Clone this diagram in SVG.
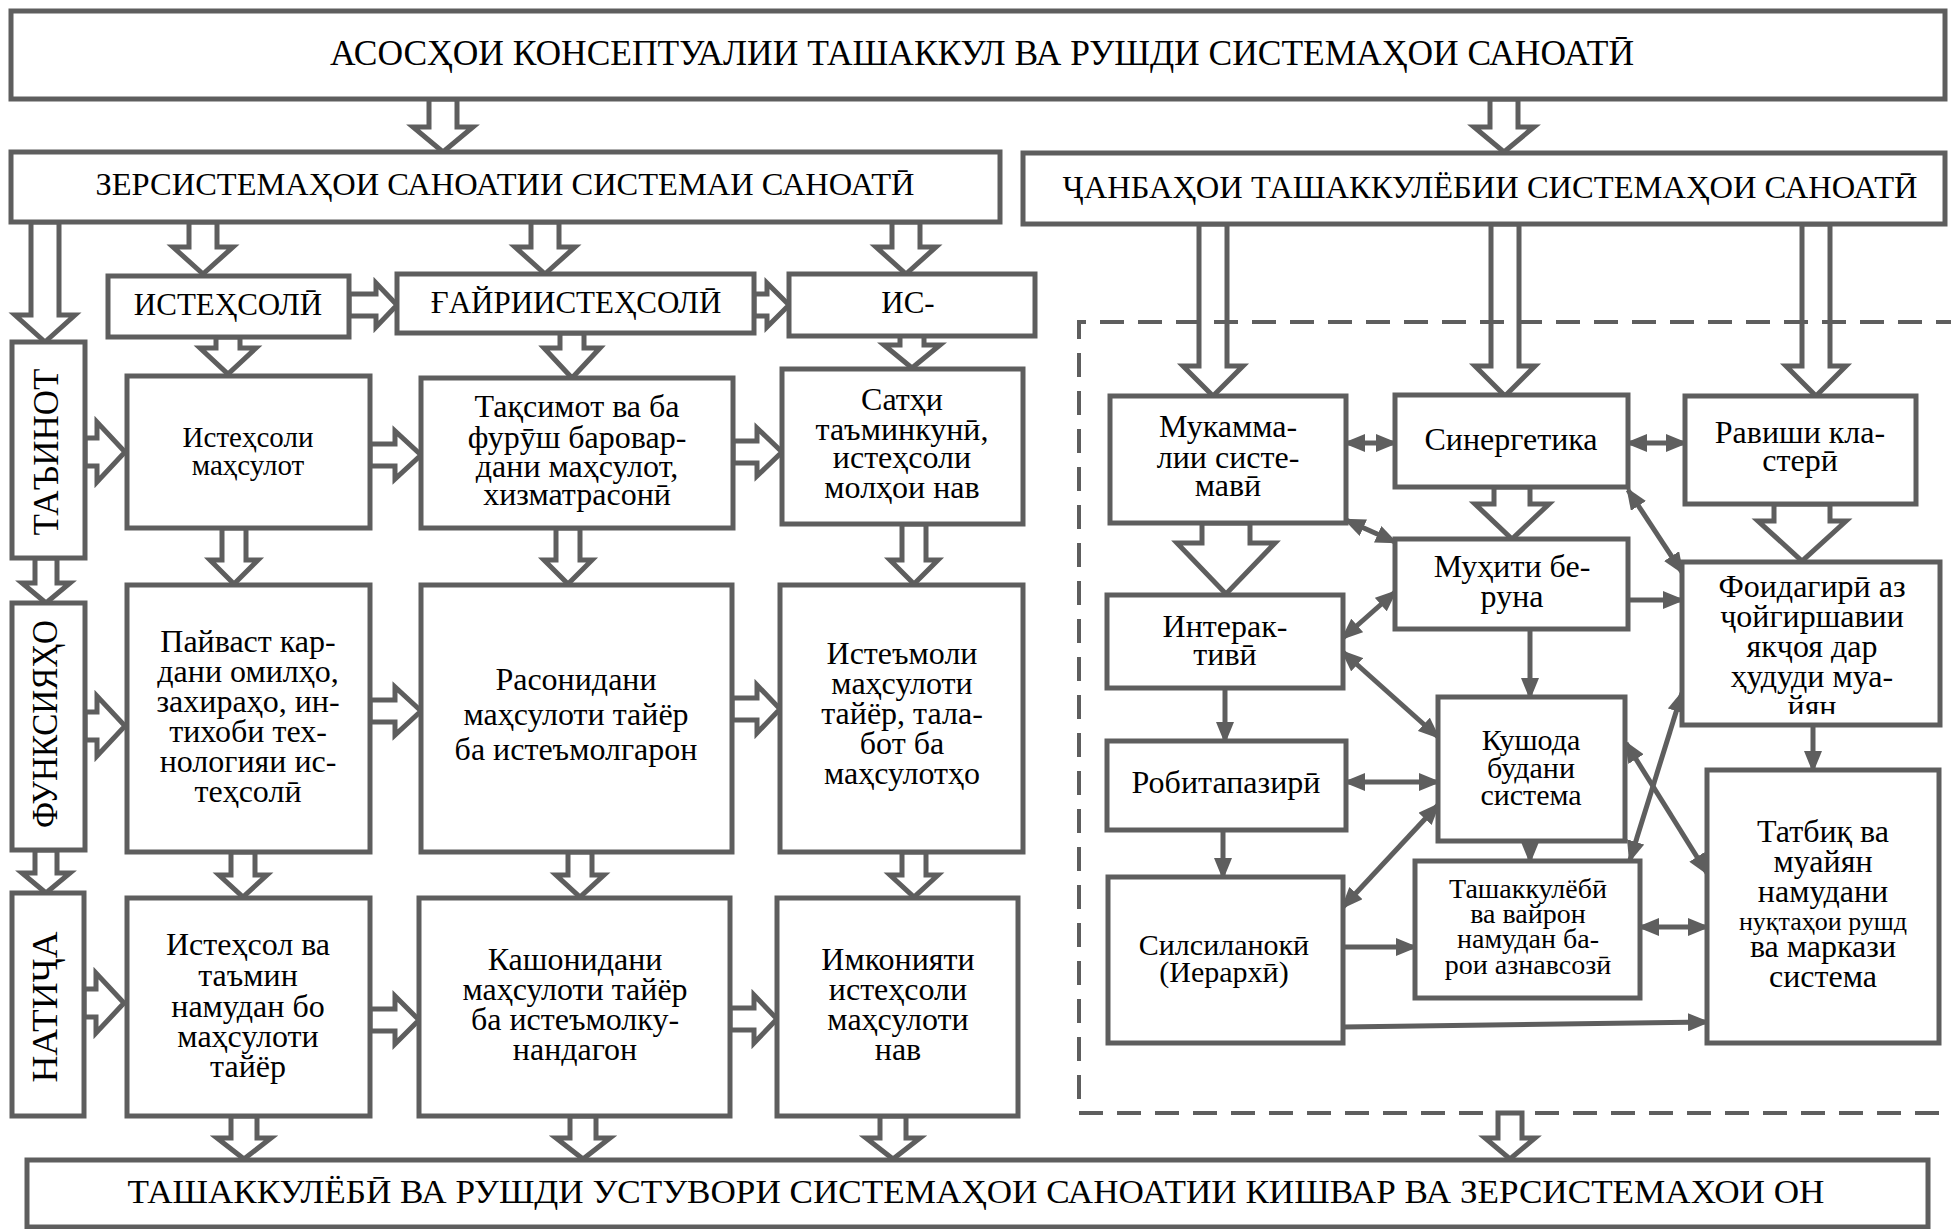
<svg xmlns="http://www.w3.org/2000/svg" width="1951" height="1229" viewBox="0 0 1951 1229">
<style>
.b{fill:#fff;stroke:#5e5e5e;stroke-width:5}
.a{fill:#fff;stroke:#5e5e5e;stroke-width:5;stroke-linejoin:miter}
.c{fill:none;stroke:#5e5e5e;stroke-width:5;marker-end:url(#ah)}
.d{fill:none;stroke:#5e5e5e;stroke-width:5;marker-start:url(#ah);marker-end:url(#ah)}
.dash{fill:none;stroke:#5e5e5e;stroke-width:4;stroke-dasharray:24 14}
text{font-family:"Liberation Serif","Times New Roman","DejaVu Serif",serif;fill:#000;text-anchor:middle}
.n{font-size:32px}
.s{font-size:29px}
.t{font-size:28px}
.h{font-size:32px}
.v{font-size:36px}
</style>
<defs>
<marker id="ah" viewBox="0 0 22 18" refX="19" refY="9" markerWidth="22" markerHeight="18" markerUnits="userSpaceOnUse" orient="auto-start-reverse">
<path d="M0,0 L22,9 L0,18 z" fill="#5e5e5e"/>
</marker>
<clipPath id="clipFoi"><rect x="1685" y="565" width="252" height="149"/></clipPath>
</defs>
<rect width="1951" height="1229" fill="#fff"/>
<g id="connectors">
<path class="a" d="M429,99 L429,127 L413,127 L443,152 L473,127 L457,127 L457,99 Z"/>
<path class="a" d="M1490,99 L1490,127 L1474,127 L1504,152 L1534,127 L1518,127 L1518,99 Z"/>
<path class="a" d="M189,222 L189,247 L173,247 L203,274 L233,247 L217,247 L217,222 Z"/>
<path class="a" d="M531,222 L531,247 L515,247 L545,274 L575,247 L559,247 L559,222 Z"/>
<path class="a" d="M892,222 L892,247 L876,247 L906,274 L936,247 L920,247 L920,222 Z"/>
<path class="a" d="M31,222 L31,315 L15,315 L45,342 L75,315 L59,315 L59,222 Z"/>
<path class="a" d="M349,294 L376,294 L376,283 L397,305 L376,327 L376,316 L349,316 Z"/>
<path class="a" d="M754,294 L767,294 L767,283 L789,305 L767,327 L767,316 L754,316 Z"/>
<path class="a" d="M216,337 L216,348 L200,348 L228,374 L256,348 L240,348 L240,337 Z"/>
<path class="a" d="M560,333 L560,348 L544,348 L572,378 L600,348 L584,348 L584,333 Z"/>
<path class="a" d="M900,333 L900,345 L884,345 L912,368 L940,345 L924,345 L924,333 Z"/>
<path class="a" d="M222,528 L222,560 L210,560 L234,584 L258,560 L246,560 L246,528 Z"/>
<path class="a" d="M556,528 L556,560 L544,560 L568,584 L592,560 L580,560 L580,528 Z"/>
<path class="a" d="M902,524 L902,560 L890,560 L914,584 L938,560 L926,560 L926,524 Z"/>
<path class="a" d="M231,852 L231,875 L219,875 L243,897 L267,875 L255,875 L255,852 Z"/>
<path class="a" d="M568,852 L568,875 L556,875 L580,897 L604,875 L592,875 L592,852 Z"/>
<path class="a" d="M902,852 L902,875 L890,875 L914,897 L938,875 L926,875 L926,852 Z"/>
<path class="a" d="M231,1116 L231,1138 L217,1138 L244,1159 L271,1138 L257,1138 L257,1116 Z"/>
<path class="a" d="M570,1116 L570,1138 L556,1138 L583,1159 L610,1138 L596,1138 L596,1116 Z"/>
<path class="a" d="M880,1116 L880,1138 L866,1138 L893,1159 L920,1138 L906,1138 L906,1116 Z"/>
<path class="a" d="M370,444 L395,444 L395,431 L421,455 L395,479 L395,466 L370,466 Z"/>
<path class="a" d="M733,441 L757,441 L757,428 L782,452 L757,476 L757,463 L733,463 Z"/>
<path class="a" d="M370,700 L395,700 L395,687 L421,711 L395,735 L395,722 L370,722 Z"/>
<path class="a" d="M732,698 L757,698 L757,685 L780,709 L757,733 L757,720 L732,720 Z"/>
<path class="a" d="M370,1009 L395,1009 L395,996 L419,1020 L395,1044 L395,1031 L370,1031 Z"/>
<path class="a" d="M730,1008 L754,1008 L754,995 L777,1019 L754,1043 L754,1030 L730,1030 Z"/>
<path class="a" d="M85,438 L97,438 L97,422 L125,452 L97,482 L97,466 L85,466 Z"/>
<path class="a" d="M85,712 L97,712 L97,696 L125,726 L97,756 L97,740 L85,740 Z"/>
<path class="a" d="M84,989 L96,989 L96,973 L124,1003 L96,1033 L96,1017 L84,1017 Z"/>
<path class="a" d="M35,558 L35,583 L22,583 L46,603 L70,583 L57,583 L57,558 Z"/>
<path class="a" d="M35,850 L35,873 L22,873 L46,893 L70,873 L57,873 L57,850 Z"/>
<path class="a" d="M1199,224 L1199,366 L1183,366 L1213,396 L1243,366 L1227,366 L1227,224 Z"/>
<path class="a" d="M1491,224 L1491,366 L1475,366 L1505,396 L1535,366 L1519,366 L1519,224 Z"/>
<path class="a" d="M1802,224 L1802,366 L1786,366 L1816,396 L1846,366 L1830,366 L1830,224 Z"/>
<path class="a" d="M1202,523 L1202,543 L1177,543 L1226,594 L1275,543 L1250,543 L1250,523 Z"/>
<path class="a" d="M1494,487 L1494,504 L1475,504 L1512,539 L1549,504 L1530,504 L1530,487 Z"/>
<path class="a" d="M1774,504 L1774,521 L1758,521 L1802,561 L1846,521 L1830,521 L1830,504 Z"/>
<path class="a" d="M1498,1113 L1498,1138 L1485,1138 L1510,1159 L1535,1138 L1522,1138 L1522,1113 Z"/>
<path class="d" d="M1346,443 L1395,443"/>
<path class="d" d="M1628,443 L1685,443"/>
<path class="d" d="M1346,520 L1395,542"/>
<path class="d" d="M1628,490 L1682,572"/>
<path class="c" d="M1628,600 L1682,600"/>
<path class="d" d="M1395,592 L1343,638"/>
<path class="c" d="M1530,629 L1530,697"/>
<path class="d" d="M1343,652 L1438,737"/>
<path class="c" d="M1225,688 L1225,741"/>
<path class="d" d="M1346,782 L1438,782"/>
<path class="c" d="M1223,830 L1223,877"/>
<path class="d" d="M1343,907 L1438,805"/>
<path class="c" d="M1343,947 L1415,947"/>
<path class="c" d="M1343,1027 L1707,1022"/>
<path class="c" d="M1530,841 L1530,861"/>
<path class="d" d="M1640,927 L1707,927"/>
<path class="d" d="M1626,743 L1707,873"/>
<path class="d" d="M1630,860 L1682,693"/>
<path class="c" d="M1813,725 L1813,770"/>
</g>
<g id="cluster">
<path class="dash" d="M1960,322 L1079,322 L1079,1113 L1960,1113"/>
</g>
<g id="top">
<rect class="b" x="11" y="11" width="1934" height="88"/>
<text x="982" y="65" style="font-size:35px" textLength="1304" lengthAdjust="spacingAndGlyphs">АСОСҲОИ КОНСЕПТУАЛИИ ТАШАККУЛ ВА РУШДИ СИСТЕМАҲОИ САНОАТӢ</text>
</g>
<g id="zersistema">
<rect class="b" x="11" y="152" width="989" height="70"/>
<text class="h" x="505" y="195" textLength="819" lengthAdjust="spacingAndGlyphs">ЗЕРСИСТЕМАҲОИ САНОАТИИ СИСТЕМАИ САНОАТӢ</text>
</g>
<g id="janbaho">
<rect class="b" x="1023" y="153" width="922" height="71"/>
<text class="h" x="1490" y="198" textLength="855" lengthAdjust="spacingAndGlyphs">ҶАНБАҲОИ ТАШАККУЛЁБИИ СИСТЕМАҲОИ САНОАТӢ</text>
</g>
<g id="istehsoli-small">
<rect class="b" x="108" y="276" width="241" height="61"/>
<text style="font-size:31px" x="228" y="315">ИСТЕҲСОЛӢ</text>
</g>
<g id="gayri">
<rect class="b" x="397" y="274" width="357" height="59"/>
<text style="font-size:31px" x="576" y="313">ҒАЙРИИСТЕҲСОЛӢ</text>
</g>
<g id="is">
<rect class="b" x="789" y="274" width="246" height="62"/>
<text style="font-size:31px" x="908" y="313">ИС-</text>
</g>
<g id="tainot">
<rect class="b" x="12" y="342" width="73" height="216"/>
<text class="v" transform="translate(58,452) rotate(-90)" textLength="167" lengthAdjust="spacingAndGlyphs">ТАЪИНОТ</text>
</g>
<g id="funksiyaho">
<rect class="b" x="12" y="603" width="73" height="247"/>
<text class="v" transform="translate(57,724) rotate(-90)" textLength="208" lengthAdjust="spacingAndGlyphs">ФУНКСИЯҲО</text>
</g>
<g id="natija">
<rect class="b" x="12" y="893" width="72" height="223"/>
<text class="v" transform="translate(57,1007) rotate(-90)" textLength="151" lengthAdjust="spacingAndGlyphs">НАТИҶА</text>
</g>
<g id="r4a">
<rect class="b" x="127" y="376" width="243" height="152"/>
<text class="s" x="248"><tspan x="248" y="447">Истеҳсоли</tspan><tspan x="248" y="475">маҳсулот</tspan></text>
</g>
<g id="r4b">
<rect class="b" x="421" y="378" width="312" height="150"/>
<text class="n"><tspan x="577" y="417">Тақсимот ва ба</tspan><tspan x="577" y="448">фурӯш баровар-</tspan><tspan x="577" y="477">дани маҳсулот,</tspan><tspan x="577" y="505">хизматрасонӣ</tspan></text>
</g>
<g id="r4c">
<rect class="b" x="782" y="369" width="241" height="155"/>
<text class="n"><tspan x="902" y="410">Сатҳи</tspan><tspan x="902" y="440">таъминкунӣ,</tspan><tspan x="902" y="468">истеҳсоли</tspan><tspan x="902" y="498">молҳои нав</tspan></text>
</g>
<g id="r5a">
<rect class="b" x="127" y="585" width="243" height="267"/>
<text class="n"><tspan x="248" y="652">Пайваст кар-</tspan><tspan x="248" y="682">дани омилҳо,</tspan><tspan x="248" y="712">захираҳо, ин-</tspan><tspan x="248" y="742">тихоби тех-</tspan><tspan x="248" y="772">нологияи ис-</tspan><tspan x="248" y="802">теҳсолӣ</tspan></text>
</g>
<g id="r5b">
<rect class="b" x="421" y="585" width="311" height="267"/>
<text class="n"><tspan x="576" y="690">Расонидани</tspan><tspan x="576" y="725">маҳсулоти тайёр</tspan><tspan x="576" y="760">ба истеъмолгарон</tspan></text>
</g>
<g id="r5c">
<rect class="b" x="780" y="585" width="243" height="267"/>
<text class="n"><tspan x="902" y="664">Истеъмоли</tspan><tspan x="902" y="694">маҳсулоти</tspan><tspan x="902" y="724">тайёр, тала-</tspan><tspan x="902" y="754">бот ба</tspan><tspan x="902" y="784">маҳсулотҳо</tspan></text>
</g>
<g id="r6a">
<rect class="b" x="127" y="898" width="243" height="218"/>
<text class="n"><tspan x="248" y="955">Истеҳсол ва</tspan><tspan x="248" y="986">таъмин</tspan><tspan x="248" y="1017">намудан бо</tspan><tspan x="248" y="1047">маҳсулоти</tspan><tspan x="248" y="1077">тайёр</tspan></text>
</g>
<g id="r6b">
<rect class="b" x="419" y="898" width="311" height="218"/>
<text class="n"><tspan x="575" y="970">Кашонидани</tspan><tspan x="575" y="1000">маҳсулоти тайёр</tspan><tspan x="575" y="1030">ба истеъмолку-</tspan><tspan x="575" y="1060">нандагон</tspan></text>
</g>
<g id="r6c">
<rect class="b" x="777" y="898" width="241" height="218"/>
<text class="n"><tspan x="898" y="970">Имконияти</tspan><tspan x="898" y="1000">истеҳсоли</tspan><tspan x="898" y="1030">маҳсулоти</tspan><tspan x="898" y="1060">нав</tspan></text>
</g>
<g id="bottom">
<rect class="b" x="27" y="1160" width="1901" height="67"/>
<text x="976" y="1203" style="font-size:34px" textLength="1697" lengthAdjust="spacingAndGlyphs">ТАШАККУЛЁБӢ ВА РУШДИ УСТУВОРИ СИСТЕМАҲОИ САНОАТИИ КИШВАР ВА ЗЕРСИСТЕМАХОИ ОН</text>
</g>
<g id="mukammal">
<rect class="b" x="1110" y="396" width="236" height="127"/>
<text class="n"><tspan x="1228" y="437">Мукамма-</tspan><tspan x="1228" y="468">лии систе-</tspan><tspan x="1228" y="496">мавӣ</tspan></text>
</g>
<g id="sinergetika">
<rect class="b" x="1395" y="395" width="233" height="92"/>
<text class="n" x="1511" y="450">Синергетика</text>
</g>
<g id="ravish">
<rect class="b" x="1685" y="396" width="231" height="108"/>
<text class="n"><tspan x="1800" y="443">Равиши кла-</tspan><tspan x="1800" y="471">стерӣ</tspan></text>
</g>
<g id="muhit">
<rect class="b" x="1395" y="539" width="233" height="90"/>
<text class="n"><tspan x="1512" y="577">Муҳити бе-</tspan><tspan x="1512" y="607">руна</tspan></text>
</g>
<g id="interaktivi">
<rect class="b" x="1107" y="595" width="236" height="93"/>
<text class="n"><tspan x="1225" y="637">Интерак-</tspan><tspan x="1225" y="665">тивӣ</tspan></text>
</g>
<g id="foidagiri">
<rect class="b" x="1682" y="562" width="258" height="163"/>
<text class="n" clip-path="url(#clipFoi)"><tspan x="1812" y="597">Фоидагирӣ аз</tspan><tspan x="1812" y="627">ҷойгиршавии</tspan><tspan x="1812" y="657">якҷоя дар</tspan><tspan x="1812" y="687">ҳудуди муа-</tspan><tspan x="1812" y="717">йян</tspan></text>
</g>
<g id="robitapaziri">
<rect class="b" x="1107" y="741" width="239" height="89"/>
<text class="n" x="1226" y="793">Робитапазирӣ</text>
</g>
<g id="kushoda">
<rect class="b" x="1438" y="697" width="187" height="144"/>
<text style="font-size:30px"><tspan x="1531" y="750">Кушода</tspan><tspan x="1531" y="778">будани</tspan><tspan x="1531" y="805">система</tspan></text>
</g>
<g id="silsilanoki">
<rect class="b" x="1108" y="877" width="235" height="166"/>
<text style="font-size:30px"><tspan x="1224" y="955">Силсиланокӣ</tspan><tspan x="1224" y="982">(Иерархӣ)</tspan></text>
</g>
<g id="tashakkulyobi">
<rect class="b" x="1415" y="861" width="225" height="137"/>
<text class="t"><tspan x="1528" y="898">Ташаккулёбӣ</tspan><tspan x="1528" y="923">ва вайрон</tspan><tspan x="1528" y="948">намудан ба-</tspan><tspan x="1528" y="974">рои азнавсозӣ</tspan></text>
</g>
<g id="tatbiq">
<rect class="b" x="1707" y="770" width="232" height="273"/>
<text class="n"><tspan x="1823" y="842">Татбиқ ва</tspan><tspan x="1823" y="872">муайян</tspan><tspan x="1823" y="902">намудани</tspan><tspan x="1823" y="930" style="font-size:26px">нуқтаҳои рушд</tspan><tspan x="1823" y="957">ва маркази</tspan><tspan x="1823" y="987">система</tspan></text>
</g>
</svg>
